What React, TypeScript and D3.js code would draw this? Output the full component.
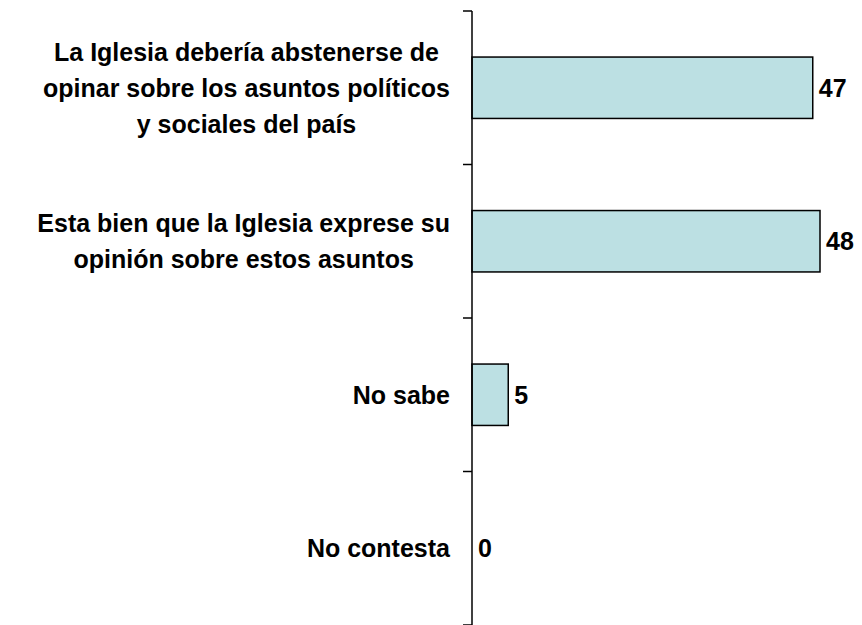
import React, { useEffect, useRef } from "react";
import * as d3 from "d3";

const categories: string[][] = [
  ["La Iglesia debería abstenerse de", "opinar sobre los asuntos políticos", "y sociales del país"],
  ["Esta bien que la Iglesia exprese su", "opinión sobre estos asuntos"],
  ["No sabe"],
  ["No contesta"],
];
const values: number[] = [47, 48, 5, 0];

const W = 862;
const H = 625;

export default function App() {
  const ref = useRef<SVGSVGElement>(null);
  useEffect(() => {
    const svg = d3.select(ref.current);
    svg.selectAll("*").remove();
    const x0 = 472;
    const x = d3.scaleLinear().domain([0, 54]).range([x0, x0 + 54 * 7.25]);
    const idx = categories.map((_, i) => String(i));
    const y = d3.scaleBand().domain(idx).range([11, 625]).paddingInner(0.6).paddingOuter(0.3);
    const band = d3.scaleBand().domain(idx).range([11, 625]);
    const font = "'Liberation Sans', Arial, sans-serif";

    // bars
    svg.selectAll("rect.bar").data(values).enter().append("rect")
      .attr("x", x(0))
      .attr("y", (_, i) => y(String(i))!)
      .attr("width", (d) => x(d) - x(0))
      .attr("height", y.bandwidth())
      .attr("fill", "#BCE0E3")
      .attr("stroke", "#000")
      .attr("stroke-width", 1.5);

    // axis
    svg.append("line").attr("x1", x0).attr("x2", x0).attr("y1", 11).attr("y2", 625)
      .attr("stroke", "#000").attr("stroke-width", 1.5);
    const tickYs = [...idx.map((k) => band(k)!), 625];
    svg.selectAll("line.tick").data(tickYs).enter().append("line")
      .attr("x1", x0 - 9).attr("x2", x0).attr("y1", (d) => d).attr("y2", (d) => d)
      .attr("stroke", "#000").attr("stroke-width", 1.5);

    // value labels
    svg.selectAll("text.val").data(values).enter().append("text")
      .attr("x", (d) => x(d) + 6)
      .attr("y", (_, i) => y(String(i))! + y.bandwidth() / 2)
      .attr("dy", "0.36em")
      .attr("font-family", font).attr("font-weight", "bold").attr("font-size", 25)
      .attr("fill", "#000")
      .text((d) => String(d));

    // category labels
    const lh = 36;
    categories.forEach((lines, i) => {
      const cy = band(String(i))! + band.bandwidth() / 2;
      const g = svg.append("g");
      const texts = lines.map((l, j) =>
        g.append("text")
          .attr("y", cy + (j - (lines.length - 1) / 2) * lh)
          .attr("dy", "0.36em")
          .attr("font-family", font).attr("font-weight", "bold").attr("font-size", 25)
          .attr("fill", "#000")
          .attr("text-anchor", "middle")
          .text(l)
      );
      const widths = texts.map((t) => (t.node() as SVGTextElement).getComputedTextLength());
      const maxW = Math.max(...widths);
      const cx = 450 - maxW / 2;
      texts.forEach((t) => t.attr("x", cx));
    });
  }, []);
  return <svg ref={ref} width={W} height={H} style={{ display: "block", position: "absolute", left: 0, top: 0 }} />;
}
